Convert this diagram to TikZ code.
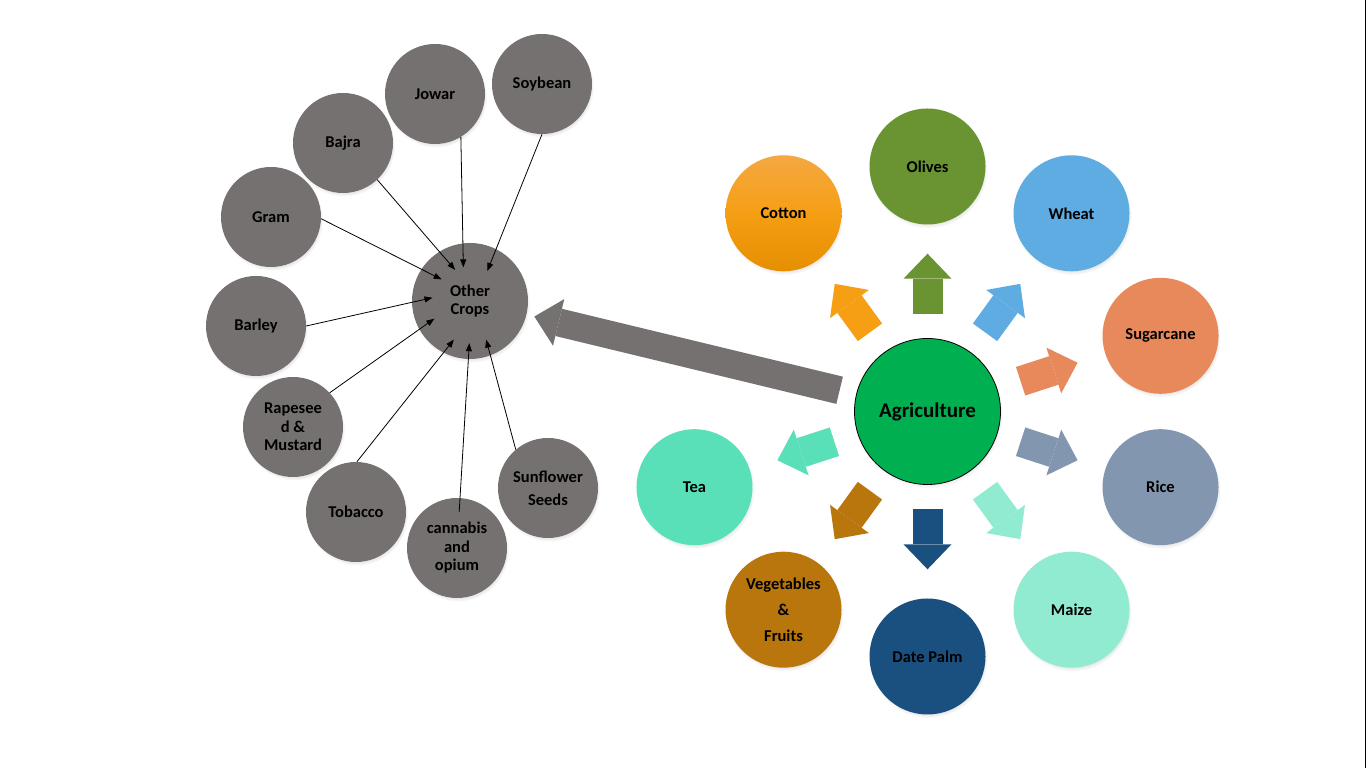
\documentclass[tikz,border=0pt]{standalone}
\usepackage{fontspec}
\setmainfont{Carlito}
\usepackage{tikz}
\usetikzlibrary{arrows.meta, calc, shadows}

\definecolor{crpgrey}{RGB}{118,113,113}
\definecolor{cAgri}{RGB}{0,176,80}
\definecolor{cCotTop}{RGB}{244,168,66}
\definecolor{cCotMid}{RGB}{246,158,20}
\definecolor{cCotBot}{RGB}{229,143,0}
\definecolor{cOlive}{RGB}{106,147,49}
\definecolor{cWheat}{RGB}{94,172,226}
\definecolor{cSugar}{RGB}{232,137,92}
\definecolor{cRice}{RGB}{131,150,175}
\definecolor{cMaize}{RGB}{145,235,209}
\definecolor{cDate}{RGB}{25,80,127}
\definecolor{cVeg}{RGB}{184,118,13}
\definecolor{cTea}{RGB}{90,224,185}

\begin{document}
\begin{tikzpicture}[
  x=1pt, y=1pt,
  crop/.style={circle, inner sep=0pt, minimum size=116pt, align=center,
               font=\bfseries\fontsize{16.5}{18.5}\selectfont,
               circular drop shadow={shadow xshift=1pt, shadow yshift=-2.5pt,
                                     shadow scale=1.02, opacity=.35}},
  minor/.style={crop, fill=crpgrey, minimum size=100pt},
  feed/.style={-{Triangle[length=8pt, width=6pt]}, line width=.8pt},
  blk/.style={line width=30pt, shorten <=24.5pt, shorten >=29pt,
              -{Triangle[length=25pt, width=48pt, line width=0pt]}},
  bigarr/.style={draw=crpgrey, line width=28pt, shorten <=17pt, shorten >=8pt,
                 -{Triangle[length=25pt, width=48pt, line width=0pt]}},
]
\useasboundingbox (0,0) rectangle (1366,768);
\fill[white] (0,0) rectangle (1366,768);
\fill[black] (1365,0) rectangle (1366,768);

% --- agriculture wheel ---
\node[crop, fill=cAgri, draw=black, line width=.8pt, minimum size=146pt,
      font=\bfseries\fontsize{21}{24}\selectfont] (agr) at (927.5,356.5) {Agriculture};

\foreach \nm/\ang/\col/\txt in {
    olv/90/cOlive/Olives, wht/54/cWheat/Wheat, sug/18/cSugar/Sugarcane,
    ric/-18/cRice/Rice, mai/-54/cMaize/Maize, dtp/-90/cDate/Date Palm,
    veg/-126/cVeg/{Vegetables\\[7.5pt]\&\\[7.5pt]Fruits}, tea/-162/cTea/Tea}{
  \node[crop, fill=\col] (\nm) at ($(agr)+(\ang:245pt)$) {\txt};
  \draw[blk, draw=\col] (agr) -- (\nm);
}
\node[crop, top color=cCotTop, bottom color=cCotBot, middle color=cCotMid]
  (cot) at ($(agr)+(126:245pt)$) {Cotton};
\draw[blk, draw=cCotMid] (agr) -- (cot);

% --- other crops ---
\node[minor, minimum size=116pt] (oc) at (470,467) {Other\\Crops};
\node[circle, inner sep=0pt, minimum size=76pt] (ochub) at ([yshift=-4pt]oc.center) {};

\node[minor] (soy) at (542,684) {Soybean};
\node[minor] (jow) at (435,674) {Jowar};
\node[minor] (baj) at (343,625) {Bajra};
\node[minor] (grm) at (271,551) {Gram};
\node[minor] (bar) at (256,442) {Barley};
\node[minor] (rap) at (293,341) {Rapesee\\d \&\\Mustard};
\node[minor] (tob) at (356,256) {Tobacco};
\node[minor] (can) at (457,220) {cannabis\\and\\opium};
\node[minor] (sun) at (548,280) {Sunflower\\[4.5pt]Seeds};

\draw[bigarr] (agr) -- (oc);

\draw[feed] (soy.-90) -- (ochub.63);
\draw[feed] (jow.-59) -- (ochub.100);
\draw[feed] (baj.-47) -- (ochub.113);
\draw[feed] (grm.-2) -- (ochub.138);
\draw[feed] (bar.0) -- (ochub.169);
\draw[feed] (rap.43) -- (ochub.201);
\draw[feed] (tob.89) -- (ochub.245);
\draw[feed, shorten <=36pt] (can.center) -- (ochub.269);
\draw[feed] (sun.130) -- (ochub.295);
\end{tikzpicture}
\end{document}
